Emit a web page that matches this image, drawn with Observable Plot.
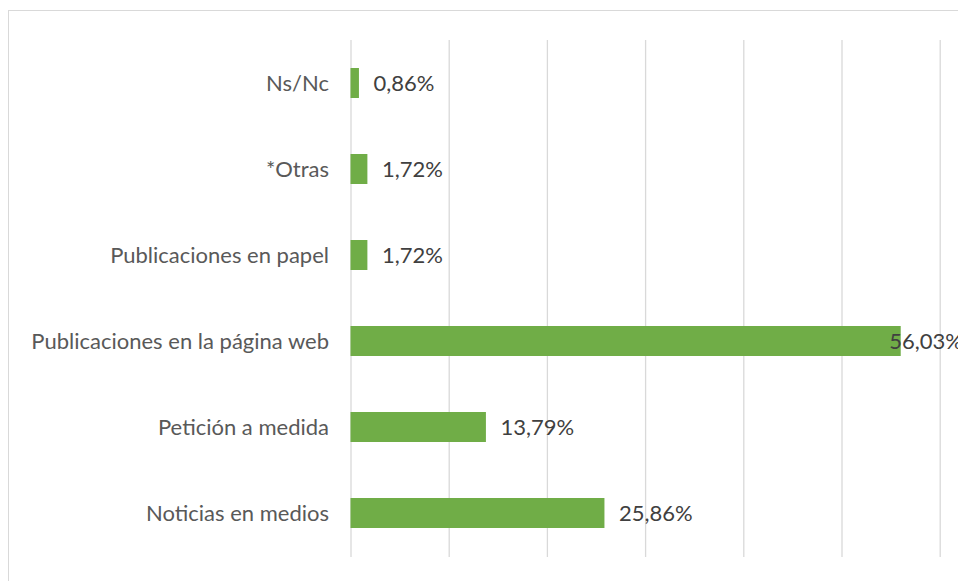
<!DOCTYPE html>
<html>
<head>
<meta charset="utf-8">
<script src="https://cdn.jsdelivr.net/npm/d3@7"></script>
<script src="https://cdn.jsdelivr.net/npm/@observablehq/plot@0.6"></script>
<style>
  html, body { margin: 0; padding: 0; background: #fff; overflow: hidden; }
  #wrap { position: relative; width: 958px; height: 581px; }
  #border { position: absolute; left: 8px; top: 10px; width: 970px; height: 600px; border: 1.5px solid #d9d9d9; box-sizing: border-box; }
  #chart { position: absolute; left: 0; top: 0; }
</style>
</head>
<body>
<div id="wrap"><div id="border"></div><div id="chart"></div></div>
<script>
const categories = ["Ns/Nc", "*Otras", "Publicaciones en papel", "Publicaciones en la página web", "Petición a medida", "Noticias en medios"];
const values = [0.86, 1.72, 1.72, 56.03, 13.79, 25.86];
const labels = ["0,86%", "1,72%", "1,72%", "56,03%", "13,79%", "25,86%"];
const gridTicks = [0, 10, 20, 30, 40, 50, 60];

const data = categories.map((c, i) => ({category: c, value: values[i], label: labels[i]}));
const font = "Lato, 'Open Sans', sans-serif";
const fs = 22;

const plot = Plot.plot({
  width: 958,
  height: 581,
  marginLeft: 350.5,
  marginRight: 18.3,
  marginTop: 40,
  marginBottom: 24,
  style: {fontFamily: font, fontSize: fs + "px", color: "#595959", background: "transparent"},
  x: {domain: [0, 60], axis: null},
  y: {domain: categories, paddingInner: 0.65, paddingOuter: 0.325, label: null},
  marks: [
    Plot.ruleX(gridTicks, {stroke: "#d9d9d9", strokeWidth: 1.3}),
    Plot.barX(data, {x: "value", y: "category", fill: "#70ad47"}),
    Plot.text(data.filter(d => d.value < 50), {x: "value", y: "category", text: "label", textAnchor: "start", dx: 14, fill: "#404040", fontSize: fs}),
    Plot.text(data.filter(d => d.value >= 50), {x: "value", y: "category", text: "label", textAnchor: "start", dx: -12, fill: "#404040", fontSize: fs}),
    Plot.axisY({tickSize: 0, tickPadding: 22, label: null, fill: "#595959", fontSize: fs})
  ]
});
document.getElementById("chart").appendChild(plot);
</script>
</body>
</html>
